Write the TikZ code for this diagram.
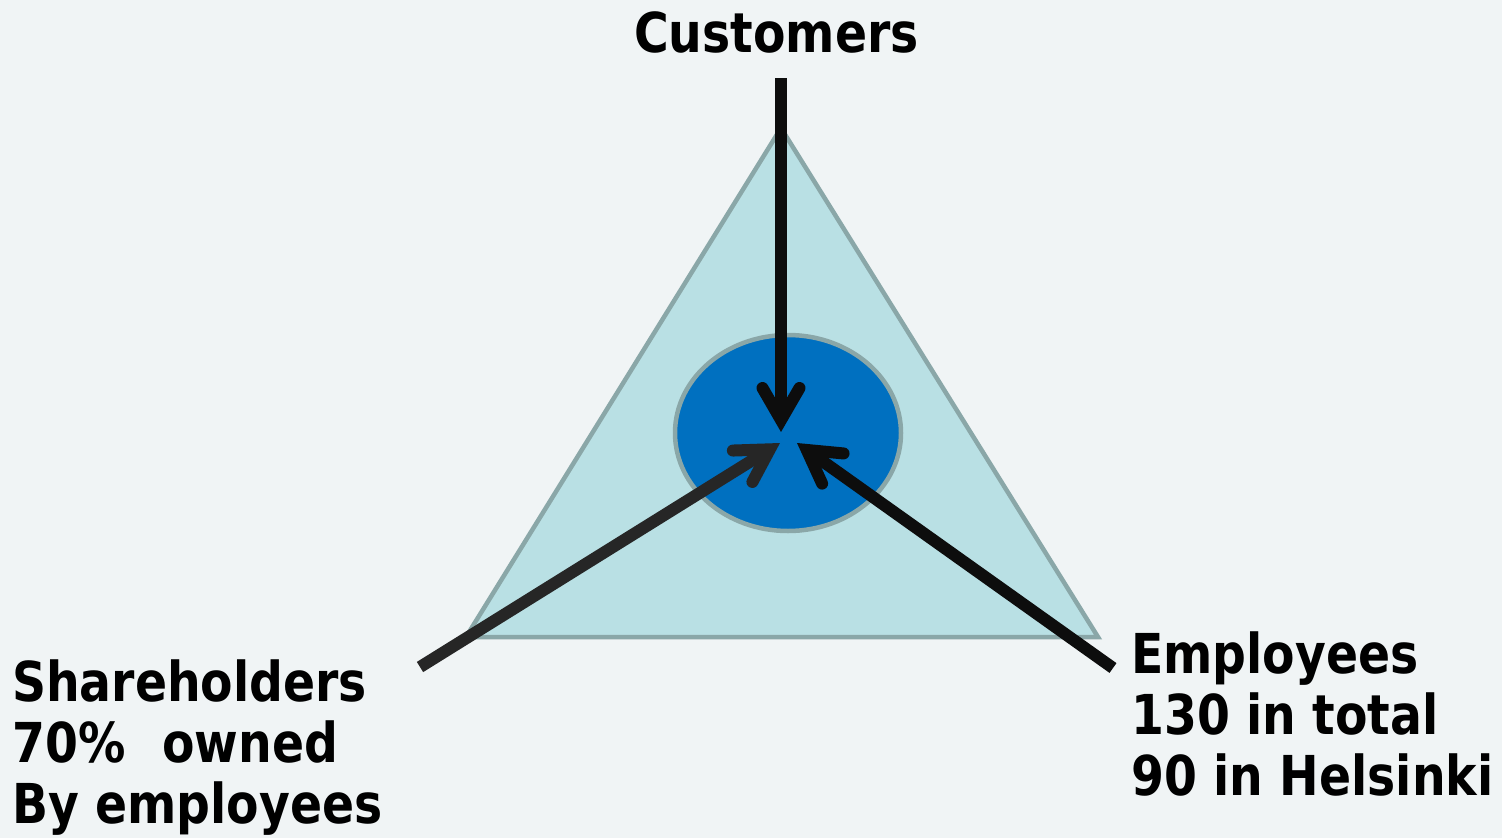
\documentclass[tikz,border=0pt]{standalone}
\usepackage{fontspec}
\newfontfamily\labfont{DejaVu Sans}[FakeStretch=0.86]
\usetikzlibrary{calc,shapes.geometric}
\definecolor{bg}{HTML}{F0F4F5}
\definecolor{trifill}{HTML}{B9E0E4}
\definecolor{tristroke}{HTML}{8AA7A8}
\definecolor{coreblue}{HTML}{0070C0}
\definecolor{ink}{HTML}{0D0D0D}
\definecolor{inkgray}{HTML}{262626}
\tikzset{
  lab/.style={font=\labfont\bfseries\fontsize{55}{61}\selectfont, inner sep=0pt, align=left, text=black},
  shaft/.style={line width=12pt, line cap=butt},
  barb/.style={line width=12pt, line cap=round, line join=miter}
}
\newcommand{\mkarrow}[4]{%
  \coordinate (#4T) at ($(#2)!12pt!(#1)$);
  \coordinate (#4B) at ($(#4T)!32pt!(#1)$);
  \coordinate (#4b1) at ($(#4B)!18.5pt!90:(#4T)$);
  \coordinate (#4b2) at ($(#4B)!18.5pt!-90:(#4T)$);
  \draw[shaft, #3] (#1) -- (#4T);
  \draw[barb, #3] (#4b1) -- (#4T) -- (#4b2);
}
\begin{document}
\begin{tikzpicture}[x=1pt,y=-1pt]
\fill[bg] (0,0) rectangle (1502,838);
\useasboundingbox (0,0) rectangle (1502,838);
% triangle
\coordinate (apex) at (781,128);
\coordinate (bl) at (466,637);
\coordinate (br) at (1098,637);
\draw[fill=trifill, draw=tristroke, line width=4.5pt, line join=miter] (apex) -- (br) -- (bl) -- cycle;
% core ellipse
\node[ellipse, fill=coreblue, draw=tristroke, line width=4.5pt, inner sep=0pt,
      minimum width=226pt, minimum height=196pt] (core) at (788,433) {};
% labels
\node[lab, anchor=base] (cust) at (776.5,52) {Customers};
\node[lab, anchor=base west] (share) at (12,823) {Shareholders\\70\%\ \ \hspace{4pt}owned\\By employees};
\node[lab, anchor=base west] (empl) at (1131,795) {Employees\\130 in total\\90 in Helsinki};
% arrow endpoints
\coordinate (cS) at (781,78);
\coordinate (cP) at (781,432);
\coordinate (sS) at (420,667);
\coordinate (sP) at (780,443);
\coordinate (eS) at (1113,668);
\coordinate (eP) at (797,443);
\mkarrow{cS}{cP}{ink}{c}
\mkarrow{sS}{sP}{inkgray}{s}
\mkarrow{eS}{eP}{ink}{e}
\end{tikzpicture}
\end{document}
